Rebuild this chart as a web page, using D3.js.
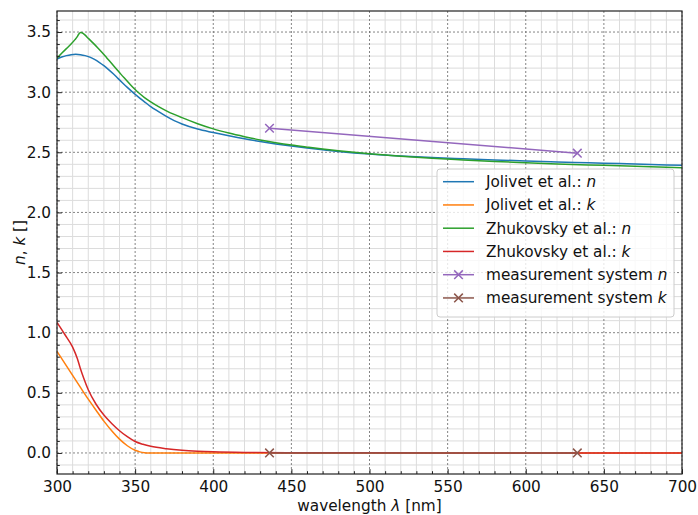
<!DOCTYPE html>
<html><head><meta charset="utf-8">
<script src="https://cdn.jsdelivr.net/npm/d3@7"></script>
<style>body{margin:0;background:#fff}svg{display:block}text{font-family:"DejaVu Sans",sans-serif}</style>
</head><body><svg id="c" width="698" height="515"></svg>
<script>
// ---- data ----
const jolivetN = [[300,3.275],[303,3.292],[306,3.304],[309,3.312],[312,3.315],[315,3.312],[318,3.304],[321,3.291],[324,3.272],[327,3.248],[330,3.220],[333,3.188],[336,3.153],[339,3.115],[342,3.077],[345,3.040],[348,3.005],[351,2.972],[354,2.940],[357,2.910],[360,2.880],[365,2.838],[370,2.798],[375,2.763],[380,2.735],[390,2.693],[400,2.664],[410,2.637],[420,2.612],[430,2.590],[440,2.570],[450,2.552],[460,2.536],[470,2.521],[480,2.507],[490,2.495],[500,2.485],[520,2.469],[540,2.456],[560,2.446],[580,2.437],[600,2.428],[620,2.420],[640,2.413],[660,2.406],[680,2.399],[700,2.392]];
const jolivetK = [[300,0.845],[305,0.745],[310,0.645],[315,0.545],[320,0.447],[325,0.355],[330,0.265],[335,0.185],[340,0.115],[345,0.060],[350,0.022],[353,0.009],[356,0.002],[358,0],[400,0],[500,0],[600,0],[700,0]];
const zhukN = [[300,3.283],[303,3.323],[306,3.362],[309,3.400],[311.5,3.437],[313,3.462],[314,3.484],[315,3.497],[316,3.494],[318,3.474],[320,3.448],[323,3.410],[326,3.370],[329,3.328],[332,3.283],[335,3.238],[338,3.193],[341,3.148],[344,3.105],[347,3.062],[350,3.022],[353,2.987],[356,2.955],[360,2.920],[365,2.880],[370,2.845],[375,2.815],[380,2.788],[390,2.738],[400,2.695],[410,2.660],[420,2.630],[430,2.603],[440,2.580],[450,2.560],[460,2.543],[470,2.527],[480,2.513],[490,2.500],[500,2.488],[520,2.468],[540,2.451],[560,2.437],[580,2.424],[600,2.413],[620,2.403],[640,2.395],[660,2.388],[680,2.380],[700,2.372]];
const zhukK = [[300,1.085],[305,0.985],[310,0.880],[313,0.785],[315,0.700],[317,0.625],[320,0.525],[325,0.405],[330,0.315],[335,0.245],[340,0.185],[345,0.135],[350,0.095],[355,0.072],[360,0.055],[370,0.035],[380,0.022],[390,0.014],[400,0.009],[425,0.004],[450,0.002],[500,0.001],[600,0],[700,0]];
const measN = [[436,2.70],[633,2.493]];
const measK = [[436,0],[633,0]];
const xMajor = [300,350,400,450,500,550,600,650,700];
const yMajor = [0,0.5,1,1.5,2,2.5,3,3.5];
const xDomain = [300,700];
const yDomain = [-0.175,3.675];
const legendLabels = [["Jolivet et al.: ","n"],["Jolivet et al.: ","k"],["Zhukovsky et al.: ","n"],["Zhukovsky et al.: ","k"],["measurement system ","n"],["measurement system ","k"]];
const colors = ["#1f77b4","#ff7f0e","#2ca02c","#d62728","#9467bd","#8c564b"];

// ---- layout ----
const L=57,R=682,T=11,B=474,FS="15.3px";
const svg=d3.select("#c");
const x=d3.scaleLinear().domain(xDomain).range([L,R]);
const y=d3.scaleLinear().domain(yDomain).range([B,T]);

const xMinor=d3.range(300,701,10).filter(v=>v%50!==0);
const yMinor=d3.range(-1,37).map(v=>v/10).filter(v=>v>yDomain[0]&&v<yDomain[1]&&Math.round(v*10)%5!==0);

const g=svg.append("g");
g.selectAll(".xm").data(xMinor).enter().append("line").attr("x1",d=>x(d)).attr("x2",d=>x(d)).attr("y1",T).attr("y2",B).attr("stroke","#dcdcdc").attr("stroke-width",1);
g.selectAll(".ym").data(yMinor).enter().append("line").attr("y1",d=>y(d)).attr("y2",d=>y(d)).attr("x1",L).attr("x2",R).attr("stroke","#dcdcdc").attr("stroke-width",1);
g.selectAll(".xM").data(xMajor).enter().append("line").attr("x1",d=>x(d)).attr("x2",d=>x(d)).attr("y1",T).attr("y2",B).attr("stroke","#666").attr("stroke-width",0.8).attr("stroke-dasharray","2,2");
g.selectAll(".yM").data(yMajor).enter().append("line").attr("y1",d=>y(d)).attr("y2",d=>y(d)).attr("x1",L).attr("x2",R).attr("stroke","#666").attr("stroke-width",0.8).attr("stroke-dasharray","2,2");

svg.append("clipPath").attr("id","clip").append("rect").attr("x",L).attr("y",T).attr("width",R-L).attr("height",B-T);
const plot=svg.append("g").attr("clip-path","url(#clip)");
const line=d3.line().x(d=>x(d[0])).y(d=>y(d[1])).curve(d3.curveMonotoneX);
const series=[jolivetN,jolivetK,zhukN,zhukK,measN,measK];
series.forEach((s,i)=>{
  plot.append("path").datum(s).attr("d",line).attr("fill","none").attr("stroke",colors[i]).attr("stroke-width",1.5).attr("stroke-linejoin","round");
  if(i>=4){
    plot.selectAll(null).data(s).enter().append("path")
      .attr("d",d=>{const cx=x(d[0]),cy=y(d[1]),r=4.3;return `M${cx-r},${cy-r}L${cx+r},${cy+r}M${cx-r},${cy+r}L${cx+r},${cy-r}`;})
      .attr("stroke",colors[i]).attr("stroke-width",1.5).attr("fill","none");
  }
});

const xAxis=d3.axisBottom(x).tickValues(xMajor).tickSizeInner(-4.9).tickSizeOuter(0).tickPadding(7.5).tickFormat(d3.format("d"));
const ax=svg.append("g").attr("transform",`translate(0,${B})`).call(xAxis);
ax.select(".domain").remove();
ax.selectAll("text").attr("font-size",FS).attr("fill","#111").attr("font-family","DejaVu Sans");
ax.selectAll("line").attr("stroke","#222");
const xAxisMinor=d3.axisBottom(x).tickValues(xMinor).tickSizeInner(-2.8).tickSizeOuter(0).tickFormat("");
const axm=svg.append("g").attr("transform",`translate(0,${B})`).call(xAxisMinor);
axm.select(".domain").remove(); axm.selectAll("line").attr("stroke","#222");

const yAxis=d3.axisLeft(y).tickValues(yMajor).tickSizeInner(-4.9).tickSizeOuter(0).tickPadding(6).tickFormat(d3.format(".1f"));
const ay=svg.append("g").attr("transform",`translate(${L},0)`).call(yAxis);
ay.select(".domain").remove();
ay.selectAll("text").attr("font-size",FS).attr("fill","#111").attr("font-family","DejaVu Sans");
ay.selectAll("line").attr("stroke","#222");
const yAxisMinor=d3.axisLeft(y).tickValues(yMinor).tickSizeInner(-2.8).tickSizeOuter(0).tickFormat("");
const aym=svg.append("g").attr("transform",`translate(${L},0)`).call(yAxisMinor);
aym.select(".domain").remove(); aym.selectAll("line").attr("stroke","#222");

svg.append("rect").attr("x",L).attr("y",T).attr("width",R-L).attr("height",B-T).attr("fill","none").attr("stroke","#222").attr("stroke-width",1.2);

const xl=svg.append("text").attr("x",(L+R)/2).attr("y",511).attr("text-anchor","middle").attr("font-size",FS).attr("fill","#111");
xl.append("tspan").text("wavelength ");
xl.append("tspan").attr("font-style","italic").text("λ");
xl.append("tspan").text(" [nm]");
const yl=svg.append("text").attr("transform",`translate(25,${(T+B)/2}) rotate(-90)`).attr("text-anchor","middle").attr("font-size",FS).attr("fill","#111");
yl.append("tspan").attr("font-style","italic").text("n");
yl.append("tspan").text(", ");
yl.append("tspan").attr("font-style","italic").text("k");
yl.append("tspan").text(" []");

const lg=svg.append("g");
lg.append("rect").attr("x",437).attr("y",169).attr("width",237).attr("height",148).attr("rx",3).attr("fill","#fff").attr("fill-opacity",0.8).attr("stroke","#ccc").attr("stroke-width",1);
legendLabels.forEach((lab,i)=>{
  const yy=181.7+i*23.25;
  lg.append("line").attr("x1",443).attr("x2",474).attr("y1",yy).attr("y2",yy).attr("stroke",colors[i]).attr("stroke-width",1.5);
  if(i>=4){
    const cx=458.5,r=4.3;
    lg.append("path").attr("d",`M${cx-r},${yy-r}L${cx+r},${yy+r}M${cx-r},${yy+r}L${cx+r},${yy-r}`).attr("stroke",colors[i]).attr("stroke-width",1.5);
  }
  const t=lg.append("text").attr("x",486).attr("y",yy).attr("dy","0.36em").attr("font-size",FS).attr("fill","#111");
  t.append("tspan").text(lab[0]);
  t.append("tspan").attr("font-style","italic").text(lab[1]);
});
</script></body></html>
